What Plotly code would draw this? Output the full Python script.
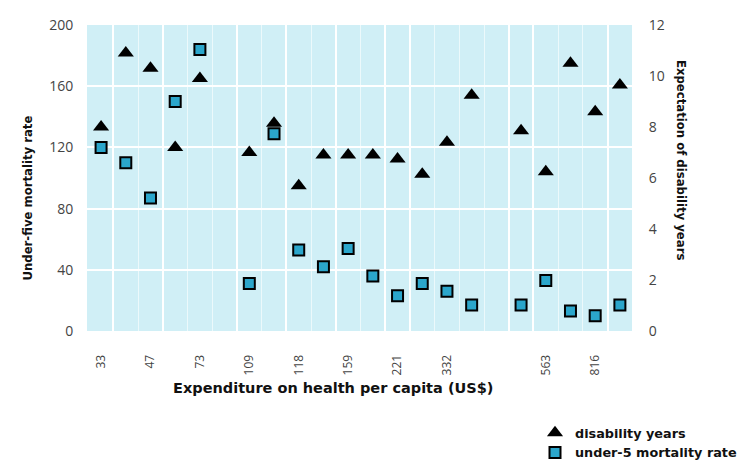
import plotly.graph_objects as go

# ---- data ----
slot_labels = ["33", "", "47", "", "73", "", "109", "", "118", "", "159", "",
               "221", "", "332", "", "", "", "563", "", "816", ""]
disability_years = [8.0, 10.9, 10.3, 7.2, 9.9, None, 7.0, 8.15, 5.7, 6.9, 6.9, 6.9,
                    6.75, 6.15, 7.4, 9.25, None, 7.85, 6.25, 10.5, 8.6, 9.65]
under5_mortality = [120, 110, 87, 150, 184, None, 31, 129, 53, 42, 54, 36,
                    23, 31, 26, 17, None, 17, 33, 13, 10, 17]
left_ticks = [0, 40, 80, 120, 160, 200]
right_ticks = [0, 2, 4, 6, 8, 10, 12]

slots = list(range(len(slot_labels)))
tick_pos = [i for i, s in enumerate(slot_labels) if s]
tick_txt = [s for s in slot_labels if s]
bright_bounds = [0.5, 2.5, 5.5, 7.5, 9.5, 11.5, 12.5, 16.5, 17.5, 20.5]
faint_bounds = [1.5, 3.5, 4.5, 6.5, 8.5, 10.5, 13.5, 14.5, 15.5, 18.5, 19.5]

# the page body adds an 8px margin, so the figure is sized to fit inside it
W, H = 747, 454
xr = [-0.57, 21.49]
tick_font = dict(family="Open Sans", size=14, color="#444444")
title_font = dict(family="DejaVu Sans", size=11.7, color="#111111", weight="bold")

fig = go.Figure()
fig.add_trace(go.Scatter(
    x=slots, y=disability_years, mode="markers", name="disability years",
    xaxis="x2", yaxis="y2",
    marker=dict(symbol="triangle-up", size=14, color="black"),
))
fig.add_trace(go.Scatter(
    x=slots, y=under5_mortality, mode="markers", name="under-5 mortality rate",
    marker=dict(symbol="square", size=11, color="#2ba6cb",
                line=dict(color="black", width=2)),
))

fig.update_layout(
    width=W, height=H,
    margin=dict(l=79, r=123, t=17, b=131, autoexpand=False),
    paper_bgcolor="white", plot_bgcolor="#d0eff6",
    showlegend=True,
    legend=dict(xref="container", yref="container",
                x=527 / W, y=1 - 410 / H, xanchor="left", yanchor="top",
                font=dict(family="DejaVu Sans", size=12.8, color="#111111", weight="bold"),
                itemwidth=30, tracegroupgap=0, bgcolor="rgba(0,0,0,0)"),
    xaxis=dict(range=xr, tickmode="array", tickvals=tick_pos, ticktext=tick_txt,
               tickangle=-90, ticks="outside", ticklen=18, tickcolor="rgba(0,0,0,0)",
               tickfont=dict(family="Open Sans", size=12, color="#444444"),
               showgrid=False, zeroline=False, showline=False, automargin=False,
               minor=dict(tickmode="array", tickvals=bright_bounds, showgrid=True,
                          gridcolor="white", gridwidth=1.5, ticks="")),
    xaxis2=dict(range=xr, overlaying="x", anchor="y2", side="bottom",
                tickmode="array", tickvals=faint_bounds, showticklabels=False,
                showgrid=True, gridcolor="rgba(255,255,255,0.6)", gridwidth=1,
                zeroline=False, showline=False, ticks="", automargin=False),
    yaxis=dict(range=[0, 200], tickmode="array", tickvals=left_ticks,
               ticks="outside", ticklen=10, tickcolor="rgba(0,0,0,0)",
               tickfont=tick_font, showgrid=True, gridcolor="white", gridwidth=1.5,
               zeroline=False, showline=False, automargin=False),
    yaxis2=dict(range=[0, 12], tickmode="array", tickvals=right_ticks,
                overlaying="y", side="right", anchor="x2",
                ticks="outside", ticklen=13, tickcolor="rgba(0,0,0,0)",
                tickfont=tick_font, showgrid=False, zeroline=False, showline=False,
                automargin=False),
    annotations=[
        dict(text="Under-five mortality rate", xref="paper", yref="paper",
             x=-0.1266, y=0.433, textangle=-90, showarrow=False, font=title_font),
        dict(text="Expectation of disability years", xref="paper", yref="paper",
             x=1.1064, y=0.559, textangle=90, showarrow=False, font=title_font),
        dict(text="Expenditure on health per capita (US$)", xref="paper", yref="paper",
             x=0.451, y=-0.219, showarrow=False,
             font=dict(family="DejaVu Sans", size=14.5, color="#111111", weight="bold")),
    ],
)

fig.write_html("out.html")
